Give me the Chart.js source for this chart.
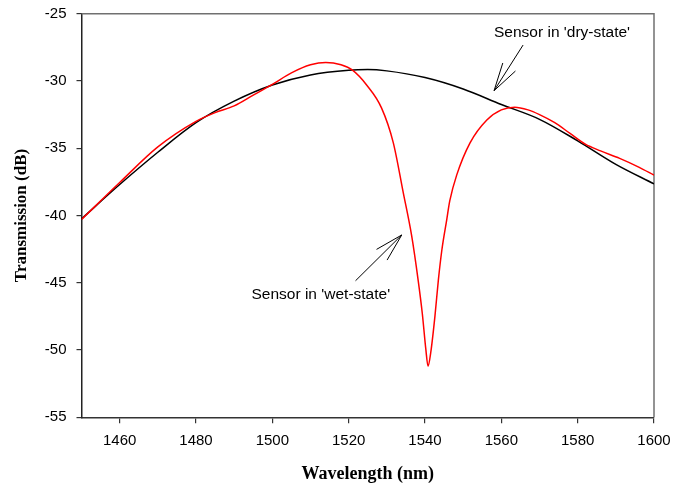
<!DOCTYPE html>
<html>
<head>
<meta charset="utf-8">
<script src="https://cdn.jsdelivr.net/npm/chart.js@4.4.0/dist/chart.umd.min.js"></script>
<style>
  html, body { margin: 0; padding: 0; background: #fff; }
  #wrap { width: 673px; height: 487px; }
</style>
</head>
<body>
<div id="wrap"><canvas id="spectrum-chart" width="673" height="487"></canvas></div>
<script>
// wavelength (nm) / transmission (dB)
const wetWavelength = [1450, 1460, 1470, 1480, 1485, 1490, 1495, 1500, 1505, 1510, 1514, 1518, 1521, 1524.7, 1528.6,
  1531.7, 1534.3, 1536.5, 1538.2, 1539.3, 1540.2, 1540.8, 1541.5, 1542.6, 1543.5, 1544.4, 1545.7, 1546.5, 1548.3,
  1551.8, 1556.2, 1560, 1563.5, 1567, 1570, 1574, 1578, 1582, 1586, 1591, 1596, 1600];
const wetTransmission = [-40.3, -37.55, -34.9, -33.0, -32.35, -31.85, -31.05, -30.25, -29.4, -28.8, -28.62, -28.8, -29.2, -30.3, -32.0,
  -34.6, -38.3, -41.5, -44.8, -47.3, -49.9, -51.2, -50.2, -47.5, -44.8, -42.6, -40.3, -38.9, -37.0,
  -34.6, -32.9, -32.15, -31.95, -32.15, -32.5, -33.1, -33.9, -34.7, -35.2, -35.75, -36.4, -37.0];

const dryWavelength = [1450, 1460, 1470, 1480, 1490, 1500, 1510, 1520, 1525, 1530, 1540, 1550, 1560, 1570, 1580, 1590, 1600];
const dryTransmission = [-40.25, -37.7, -35.3, -33.1, -31.5, -30.3, -29.55, -29.2, -29.15, -29.25, -29.75, -30.6, -31.75,
  -32.85, -34.45, -36.2, -37.65];

const xTitle = 'Wavelength (nm)';
const yTitle = 'Transmission (dB)';

// labels with arrows, in data units
const notes = [
  { text: "Sensor in 'dry-state'", at: [1575.9, -26.43], from: [1565.7, -27.33], to: [1558.1, -30.72] },
  { text: "Sensor in 'wet-state'", at: [1512.7, -45.9], from: [1521.8, -44.85], to: [1533.9, -41.45] }
];

const toPoints = (xs, ys) => xs.map((x, i) => ({ x: x, y: ys[i] }));

// grey top and right edges of the frame
const frameEdges = {
  id: 'frameEdges',
  beforeDatasetsDraw(chart) {
    const { ctx, chartArea: a } = chart;
    ctx.save();
    ctx.strokeStyle = '#707070';
    ctx.lineWidth = 1.5;
    ctx.beginPath();
    ctx.moveTo(a.left, a.top);
    ctx.lineTo(a.right, a.top);
    ctx.lineTo(a.right, a.bottom);
    ctx.stroke();
    ctx.restore();
  }
};

const arrowNotes = {
  id: 'arrowNotes',
  afterDraw(chart) {
    const { ctx } = chart;
    const xs = chart.scales.x, ys = chart.scales.y;
    ctx.save();
    ctx.font = '15.5px "Liberation Sans", Arial, sans-serif';
    ctx.fillStyle = '#000';
    ctx.strokeStyle = '#000';
    ctx.lineWidth = 1;
    ctx.textAlign = 'center';
    ctx.textBaseline = 'middle';
    notes.forEach(n => {
      ctx.fillText(n.text, xs.getPixelForValue(n.at[0]), ys.getPixelForValue(n.at[1]));
      const x0 = xs.getPixelForValue(n.from[0]), y0 = ys.getPixelForValue(n.from[1]);
      const x1 = xs.getPixelForValue(n.to[0]), y1 = ys.getPixelForValue(n.to[1]);
      ctx.beginPath();
      ctx.moveTo(x0, y0);
      ctx.lineTo(x1, y1);
      const ang = Math.atan2(y0 - y1, x0 - x1);
      const len = 29, spread = 15 * Math.PI / 180;
      ctx.moveTo(x1 + len * Math.cos(ang - spread), y1 + len * Math.sin(ang - spread));
      ctx.lineTo(x1, y1);
      ctx.lineTo(x1 + len * Math.cos(ang + spread), y1 + len * Math.sin(ang + spread));
      ctx.stroke();
    });
    ctx.restore();
  }
};

const tickFont = { family: '"Liberation Sans", Arial, sans-serif', size: 15 };
const serif = '"Liberation Serif", "Times New Roman", serif';

new Chart(document.getElementById('spectrum-chart').getContext('2d'), {
  type: 'scatter',
  data: {
    datasets: [
      {
        label: 'wet',
        data: toPoints(wetWavelength, wetTransmission),
        showLine: true,
        borderColor: '#ff0000',
        borderWidth: 1.5,
        pointRadius: 0,
        cubicInterpolationMode: 'monotone'
      },
      {
        label: 'dry',
        data: toPoints(dryWavelength, dryTransmission),
        showLine: true,
        borderColor: '#000000',
        borderWidth: 1.5,
        pointRadius: 0,
        cubicInterpolationMode: 'monotone'
      }
    ]
  },
  options: {
    responsive: false,
    animation: false,
    layout: { padding: { top: 13.7, right: 19, bottom: 0, left: 0 } },
    plugins: {
      legend: { display: false },
      tooltip: { enabled: false }
    },
    scales: {
      x: {
        type: 'linear',
        min: 1450,
        max: 1600,
        afterFit: s => { s.height = 69.7; s.paddingLeft = 0; s.paddingRight = 0; },
        ticks: { stepSize: 20, includeBounds: false, color: '#000', font: tickFont, padding: 9, maxRotation: 0,
          callback: v => String(v) },
        grid: { drawOnChartArea: false, tickLength: 6, color: '#333', lineWidth: 1.2 },
        border: { color: '#333', width: 1.5 },
        title: { display: true, text: xTitle, color: '#000', font: { family: serif, size: 18, weight: 'bold' },
          padding: { top: 0, bottom: 2 } }
      },
      y: {
        type: 'linear',
        min: -55,
        max: -25,
        afterFit: s => { s.width = 81.5; s.paddingTop = 0; s.paddingBottom = 0; },
        ticks: { stepSize: 5, color: '#000', font: tickFont, padding: 10, callback: v => String(v) },
        grid: { drawOnChartArea: false, tickLength: 5, color: '#333', lineWidth: 1.2 },
        border: { color: '#222', width: 1.5 },
        title: { display: true, text: yTitle, color: '#000', font: { family: serif, size: 17, weight: 'bold' },
          padding: { top: 11, bottom: 0 } }
      }
    }
  },
  plugins: [frameEdges, arrowNotes]
});
</script>
</body>
</html>
